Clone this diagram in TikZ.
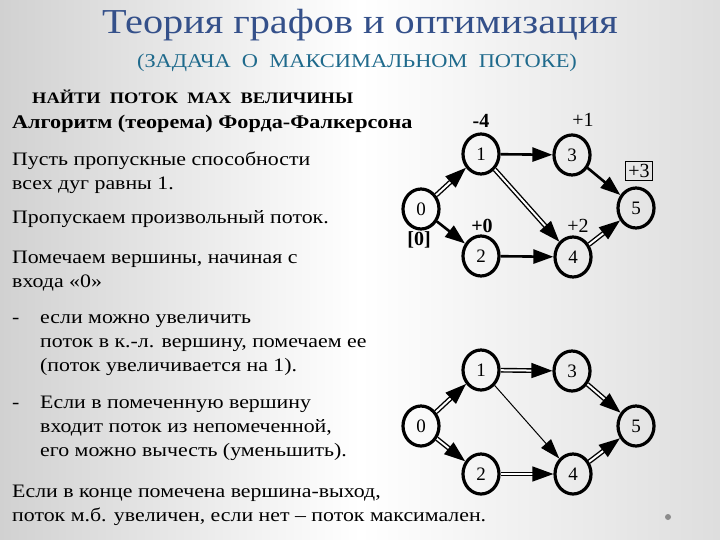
\documentclass[tikz,border=0pt]{standalone}
\usepackage{fontspec}
\setmainfont[FakeStretch=1.15]{Liberation Serif}
\newfontfamily\graphfont{Liberation Serif}
\usetikzlibrary{shapes.geometric,arrows.meta}
\definecolor{titleblue}{HTML}{34508A}
\definecolor{subblue}{HTML}{1F6A8C}
\tikzset{
  txt/.style={anchor=base west, inner sep=0pt, font=\fontsize{19}{20}\selectfont},
  btxt/.style={txt, font=\fontsize{19.3}{20}\selectfont\bfseries},
  vert/.style={draw, ellipse, line width=3.2pt, minimum width=36pt, minimum height=40pt, inner sep=0pt, font=\graphfont\fontsize{19}{19}\selectfont},
  arr/.style={line width=2.6pt, -{Triangle[length=20pt,width=14pt]}},
  thin/.style={line width=1pt, -{Triangle[length=20pt,width=13pt]}},
  dbl/.style={double, double distance=2pt, line width=1.4pt, -{Triangle[length=21pt,width=15pt]}},
  lab/.style={inner sep=1pt, font=\graphfont\fontsize{20}{20}\selectfont},
  blab/.style={lab, font=\graphfont\fontsize{20}{20}\selectfont\bfseries},
}
\begin{document}
\begin{tikzpicture}[x=1pt,y=-1pt]
\useasboundingbox (0,0) rectangle (720,540);
\shade[left color=black!18, right color=black!13, middle color=white] (0,0) rectangle (720,540);
% titles
\node[font=\fontsize{35}{35}\selectfont, text=titleblue] (title) at (360,25) {Теория графов и оптимизация};
\node[font=\fontsize{19.5}{19.5}\selectfont, text=subblue] (sub) at (357,63) {(ЗАДАЧА~ О~ МАКСИМАЛЬНОМ~ ПОТОКЕ)};
% left text
\node[btxt, font=\fontsize{16}{18}\selectfont\bfseries] (t1) at (32,104) {НАЙТИ~ ПОТОК~ MAX~ ВЕЛИЧИНЫ};
\node[btxt] (t2) at (12,129) {Алгоритм (теорема) Форда-Фалкерсона};
\node[txt] (t3) at (12,166) {Пусть пропускные способности};
\node[txt] (t4) at (12,190) {всех дуг равны 1.};
\node[txt] (t5) at (12,224) {Пропускаем произвольный поток.};
\node[txt] (t6) at (12,263) {Помечаем вершины, начиная с};
\node[txt] (t7) at (12,287) {входа «0»};
\node[txt] (d1) at (12,323) {-};
\node[txt] (t8) at (40,323) {если можно увеличить};
\node[txt] (t9) at (40,347) {поток в к.-л. вершину, помечаем ее};
\node[txt] (t10) at (40,371) {(поток увеличивается на 1).};
\node[txt] (d2) at (12,408) {-};
\node[txt] (t11) at (40,408) {Если в помеченную вершину};
\node[txt] (t12) at (40,432) {входит поток из непомеченной,};
\node[txt] (t13) at (40,456) {его можно вычесть (уменьшить).};
\node[txt] (t14) at (12,497) {Если в конце помечена вершина-выход,};
\node[txt] (t15) at (12,521) {поток м.б. увеличен, если нет – поток максимален.};
% top graph
\node[vert] (a0) at (421,209) {0};
\node[vert] (a1) at (481,154) {1};
\node[vert] (a3) at (572,155) {3};
\node[vert] (a5) at (636,208) {5};
\node[vert] (a2) at (481,256) {2};
\node[vert] (a4) at (573,257) {4};
\draw[dbl] (a0) -- (a1);
\draw[arr] (a0) -- (a2);
\draw[arr] (a1) -- (a3);
\draw[dbl] (a1) -- (a4);
\draw[arr] (a2) -- (a4);
\draw[arr] (a3) -- (a5);
\draw[dbl] (a4) -- (a5);
\node[blab] (l1) at (481,121) {-4};
\node[lab] (l3) at (583,120) {+1};
\node[lab, draw, line width=1.5pt, inner sep=3pt] (l5) at (639,171) {+3};
\node[blab] (l2) at (482,226) {+0};
\node[lab] (l4) at (578,226) {+2};
\node[blab] (l0) at (419,240) {[0]};
% bottom graph
\node[vert] (b0) at (421,426) {0};
\node[vert] (b1) at (481,370) {1};
\node[vert] (b3) at (572,371) {3};
\node[vert] (b5) at (636,426) {5};
\node[vert] (b2) at (481,474) {2};
\node[vert] (b4) at (573,474) {4};
\draw[dbl] (b0) -- (b1);
\draw[dbl] (b0) -- (b2);
\draw[dbl] (b1) -- (b3);
\draw[thin] (b1) -- (b4);
\draw[dbl] (b2) -- (b4);
\draw[dbl] (b3) -- (b5);
\draw[dbl] (b4) -- (b5);
% dot
\fill[black!45] (668,517) circle (3);
\end{tikzpicture}
\end{document}
